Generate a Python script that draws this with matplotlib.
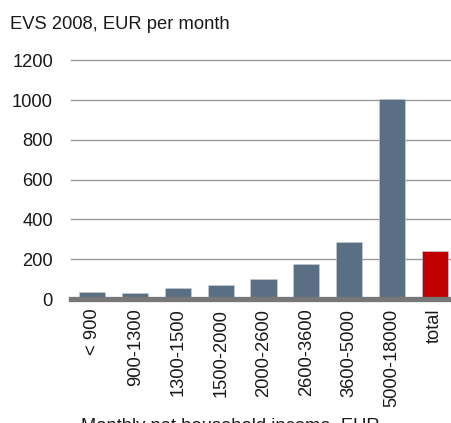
import matplotlib
matplotlib.use("Agg")
import matplotlib.pyplot as plt

plt.rcParams['font.family'] = ['Liberation Sans', 'DejaVu Sans']

categories = ["< 900", "900-1300", "1300-1500", "1500-2000", "2000-2600",
              "2600-3600", "3600-5000", "5000-18000", "total"]
values = [37, 29, 57, 70, 100, 175, 287, 1007, 242]
colors = ["#5a6f84"] * 8 + ["#c00000"]
yticks = [0, 200, 400, 600, 800, 1000, 1200]

W, H = 451, 423
fig = plt.figure(figsize=(W / 100, H / 100), dpi=100)
ax = fig.add_axes([71 / W, 1 - 299 / H, (456 - 71) / W, (299 - 60.5) / H])

x = list(range(len(categories)))
ax.bar(x, values, width=0.61, color=colors, edgecolor="#c8d0d8", linewidth=0.4, zorder=3)
ax.set_xlim(-0.5, len(categories) - 0.5)
ax.set_ylim(0, 1200)
ax.set_yticks(yticks)
ax.set_yticklabels([str(t) for t in yticks])
for t in yticks[1:]:
    ax.axhline(t, color="#999999", linewidth=1.0, zorder=1, clip_on=False)
ax.axhline(0, color="#777777", linewidth=3.8, zorder=4, clip_on=False)

ax.set_xticks(x)
ax.set_xticklabels(categories, rotation=90, va="top", ha="center")
for s in ax.spines.values():
    s.set_visible(False)
ax.tick_params(axis="both", length=0, labelsize=13.2, colors="#1a1a1a")
ax.tick_params(axis="y", pad=13)
ax.tick_params(axis="x", pad=7)

fig.text(10 / W, 1 - 29.3 / H, "EVS 2008, EUR per month", fontsize=13.2,
         color="#1a1a1a", va="baseline", ha="left")
fig.text(81 / W, 1 - 431 / H, "Monthly net household income, EUR", fontsize=13.2,
         color="#1a1a1a", va="baseline", ha="left")

fig.savefig("out.png", dpi=100)
